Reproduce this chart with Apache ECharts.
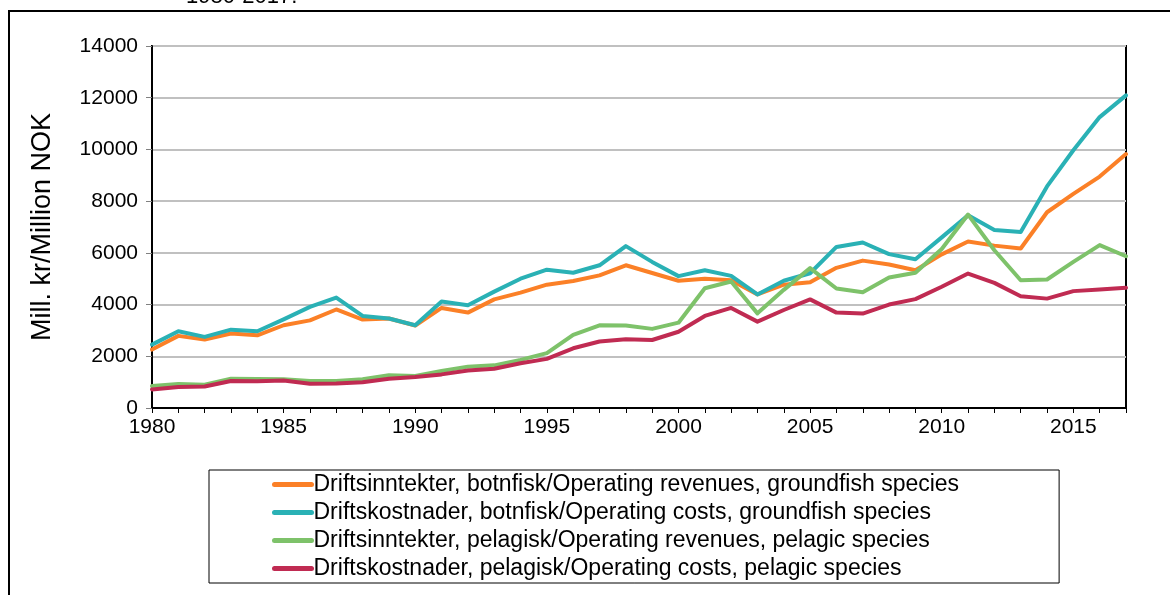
<!DOCTYPE html>
<html>
<head>
<meta charset="utf-8">
<script src="https://cdn.jsdelivr.net/npm/echarts@6.0.0/dist/echarts.min.js"></script>
<style>
  html, body { margin: 0; padding: 0; background: #fff; }
  #chart { width: 1170px; height: 595px; }
</style>
</head>
<body>
<div id="chart"></div>
<script>
const years = []
for (let y = 1980; y <= 2017; y++) years.push(String(y))

const revGround = [2260, 2790, 2650, 2880, 2810, 3200, 3390, 3810, 3420, 3460,
  3190, 3870, 3690, 4200, 4460, 4770, 4910, 5130, 5520, 5220,
  4920, 5000, 4940, 4390, 4770, 4860, 5420, 5700, 5550, 5330,
  5940, 6440, 6280, 6170, 7570, 8280, 8950, 9820]
const costGround = [2450, 2970, 2750, 3030, 2970, 3430, 3910, 4270, 3560, 3460,
  3200, 4120, 3970, 4500, 5000, 5350, 5230, 5520, 6260, 5650,
  5100, 5330, 5110, 4390, 4920, 5210, 6230, 6400, 5950, 5750,
  6600, 7450, 6880, 6810, 8570, 9970, 11250, 12090]
const revPelagic = [850, 930, 900, 1130, 1120, 1110, 1045, 1045, 1110, 1270,
  1240, 1430, 1600, 1650, 1860, 2120, 2830, 3200, 3190, 3060,
  3300, 4630, 4890, 3660, 4570, 5410, 4620, 4480, 5050, 5230,
  6150, 7480, 6100, 4940, 4970, 5650, 6300, 5870]
const costPelagic = [720, 810, 830, 1045, 1030, 1060, 940, 945, 995, 1135,
  1200, 1300, 1450, 1520, 1730, 1900, 2310, 2570, 2660, 2630,
  2950, 3560, 3870, 3340, 3790, 4200, 3690, 3650, 4000, 4210,
  4690, 5200, 4840, 4320, 4230, 4520, 4580, 4650]

const names = [
  'Driftsinntekter, botnfisk/Operating revenues, groundfish species',
  'Driftskostnader, botnfisk/Operating costs, groundfish species',
  'Driftsinntekter, pelagisk/Operating revenues, pelagic species',
  'Driftskostnader, pelagisk/Operating costs, pelagic species'
]
const colors = ['#fb8027', '#2ab1b5', '#7ec26a', '#c02b52']
const values = [revGround, costGround, revPelagic, costPelagic]

const font = 'Liberation Sans'

const chart = echarts.init(document.getElementById('chart'))
chart.setOption({
  animation: false,
  color: colors,
  textStyle: { fontFamily: font },
  graphic: [
    { // frame of the figure
      type: 'polyline',
      shape: { points: [[9, 600], [9, 11], [1175, 11]] },
      style: { stroke: '#000', lineWidth: 2, fill: null }
    },
    { // title cut off at the top
      type: 'text',
      left: 186,
      top: -14,
      style: { text: '1980-2017.', font: '22px "Liberation Sans"', fill: '#000' }
    }
  ],
  grid: {
    left: 152,
    right: 44,
    top: 46,
    bottom: 187,
    show: true,
    borderColor: '#000',
    borderWidth: 2
  },
  legend: {
    orient: 'vertical',
    left: 209,
    top: 470,
    padding: [3, 100, 3, 63],
    borderColor: '#000',
    borderWidth: 1,
    itemWidth: 37,
    itemHeight: 14,
    itemGap: 5,
    selectedMode: false,
    itemStyle: { opacity: 0 },
    lineStyle: { width: 5, cap: 'round' },
    textStyle: { fontSize: 23, color: '#000', lineHeight: 23, padding: [0, 0, 0, -3] },
    data: names
  },
  xAxis: {
    type: 'category',
    boundaryGap: false,
    data: years,
    axisLine: { lineStyle: { color: '#000', width: 2 } },
    axisTick: { interval: 0, length: 5, lineStyle: { color: '#000' } },
    axisLabel: { interval: 4, color: '#000', fontSize: 21, margin: 9 },
    splitLine: { show: false }
  },
  yAxis: {
    type: 'value',
    min: 0,
    max: 14000,
    interval: 2000,
    name: 'Mill. kr/Million NOK',
    nameLocation: 'middle',
    nameGap: 96,
    nameTextStyle: { fontSize: 27, color: '#000' },
    axisLine: { show: true, lineStyle: { color: '#000', width: 2 } },
    axisTick: { show: true, length: 6, lineStyle: { color: '#808080' } },
    axisLabel: { color: '#000', fontSize: 21, margin: 14, formatter: v => String(v) },
    splitLine: { lineStyle: { color: '#c0c0c0', width: 2 } }
  },
  series: names.map((n, i) => ({
    name: n,
    type: 'line',
    data: values[i],
    symbol: 'none',
    lineStyle: { width: 4, cap: 'round', join: 'round' }
  }))
})
</script>
</body>
</html>
